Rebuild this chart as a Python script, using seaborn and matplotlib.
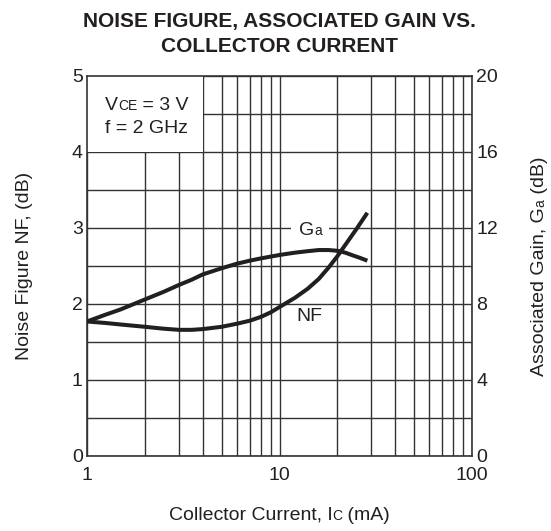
import numpy as np
import pandas as pd
import matplotlib
matplotlib.use('Agg')
import matplotlib.pyplot as plt
import matplotlib.transforms as mtransforms
from matplotlib.patches import Rectangle
from matplotlib.ticker import NullFormatter
import seaborn as sns

# ---------------- data ----------------
ic_nf = [1, 1.25, 1.5, 2, 2.5, 3, 3.5, 4, 5, 6, 7, 8, 9, 10, 12, 14, 16, 18, 20, 22, 25, 28.6]
nf_db = [1.77, 1.75, 1.73, 1.70, 1.675, 1.66, 1.66, 1.67, 1.70, 1.74, 1.78, 1.83, 1.89, 1.96,
         2.08, 2.20, 2.33, 2.48, 2.63, 2.78, 2.98, 3.20]

ic_ga = [1, 1.25, 1.5, 2, 2.5, 3, 3.5, 4, 5, 6, 7, 8, 10, 12, 14, 16, 18, 20, 22, 24, 26, 28.6]
ga_db = [7.08, 7.44, 7.72, 8.24, 8.64, 9.00, 9.28, 9.56, 9.88, 10.12, 10.28, 10.40, 10.58,
         10.70, 10.78, 10.84, 10.84, 10.80, 10.70, 10.56, 10.44, 10.28]

x_major = [1, 10, 100]
x_labels = ['1', '10', '100']
x_minor = [2, 3, 4, 5, 6, 7, 8, 9, 20, 30, 40, 50, 60, 70, 80, 90]
nf_ticks = [0, 1, 2, 3, 4, 5]
nf_minor = [0.5, 1.5, 2.5, 3.5, 4.5]
ga_ticks = [0, 4, 8, 12, 16, 20]

title_lines = ['NOISE FIGURE, ASSOCIATED GAIN VS.', 'COLLECTOR CURRENT']

# ---------------- style ----------------
W, H = 551, 531
sns.set_theme(style='white')
FONT = 'Liberation Sans'
plt.rcParams['font.family'] = [FONT, 'DejaVu Sans']
INK = '#231f20'
GRID = '#333333'
FS = 14
FS_SMALL = 10

fig = plt.figure(figsize=(W / 100, H / 100), dpi=100)
ax = fig.add_axes([87 / W, (H - 456) / H, 385 / W, 380 / H])
ax.set_xscale('log')
ax2 = ax.twinx()

nf_df = pd.DataFrame({'Ic': ic_nf, 'NF': nf_db})
ga_df = pd.DataFrame({'Ic': ic_ga, 'Ga': ga_db})
sns.lineplot(data=nf_df, x='Ic', y='NF', ax=ax, color=INK, lw=2.9, sort=False, zorder=3,
             solid_capstyle='butt', solid_joinstyle='round')
sns.lineplot(data=ga_df, x='Ic', y='Ga', ax=ax2, color=INK, lw=2.9, sort=False, zorder=3,
             solid_capstyle='butt', solid_joinstyle='round')

ax.set_xlim(1, 100)
ax.set_ylim(0, 5)
ax2.set_ylim(0, 20)

ax.set_xticks(x_major)
ax.set_xticklabels(x_labels, fontsize=FS, color=INK)
ax.set_xticks(x_minor, minor=True)
ax.xaxis.set_minor_formatter(NullFormatter())
ax.set_yticks(nf_ticks)
ax.set_yticklabels([str(v) for v in nf_ticks], fontsize=FS, color=INK)
ax.set_yticks(nf_minor, minor=True)
ax2.set_yticks(ga_ticks)
ax2.set_yticklabels([str(v) for v in ga_ticks], fontsize=FS, color=INK)

ax.set_axisbelow(True)
ax.grid(which='both', color=GRID, lw=1.0)
ax2.grid(False)
ax.tick_params(which='both', length=0)
ax.tick_params(axis='y', pad=3)
ax.tick_params(axis='x', pad=8)
ax2.tick_params(which='both', length=0, pad=3)
ax.set_xlabel('')
ax.set_ylabel('')
ax2.set_ylabel('')
for s in ax.spines.values():
    s.set_color(GRID)
    s.set_linewidth(1.2)
for s in ax2.spines.values():
    s.set_visible(False)

# white patch behind the condition text
ax.add_patch(Rectangle((1, 4), 3, 1, facecolor='white', edgecolor='none', zorder=1))

# ---------------- composite text helpers ----------------
renderer = fig.canvas.get_renderer()
IDT = mtransforms.IdentityTransform()


def measure(s, size, weight='normal'):
    t = fig.text(0, 0, '|' + s + '|', fontsize=size, fontweight=weight)
    t0 = fig.text(0, 0, '||', fontsize=size, fontweight=weight)
    w = t.get_window_extent(renderer).width - t0.get_window_extent(renderer).width
    t.remove()
    t0.remove()
    return w


def composite(x, y, pieces, rotation=0, align='center'):
    """x, y in display pixels (origin bottom-left); y (or x if rotated) is baseline."""
    ws = [measure(s, sz) for s, sz in pieces]
    total = sum(ws)
    pos = -total / 2 if align == 'center' else 0
    for (s, sz), w in zip(pieces, ws):
        if rotation == 0:
            px, py = x + pos, y
        else:
            px, py = x, y + pos
        fig.text(px, py, s, fontsize=sz, color=INK, rotation=rotation,
                 rotation_mode='anchor', ha='left', va='baseline',
                 transform=IDT, zorder=6)
        pos += w
    return total


def scr(y_top):
    return H - y_top

# condition text
composite(105, scr(109.5), [('V', FS), ('CE', FS_SMALL), (' = 3 V', FS)], align='left')
composite(105, scr(132.7), [('f = 2 GHz', FS)], align='left')

# curve labels
gx, gy = ax.transData.transform((14.5, 3.0))
fig.add_artist(Rectangle((gx - 20, gy - 3), 38, 6, transform=IDT, facecolor='white',
                         edgecolor='none', zorder=1))
composite(gx, gy - 7, [('G', FS), ('a', FS_SMALL)])
ax.text(14.3, 1.83, 'NF', ha='center', va='center', fontsize=FS, color=INK, zorder=5)

# axis labels
fig.text(25 / W, (H - 266) / H, 'Noise Figure NF, (dB)', rotation=90, ha='center', va='center',
         fontsize=FS, color=INK)
composite(544, scr(266), [('Associated Gain, G', FS), ('a', FS_SMALL), (' (dB)', FS)], rotation=90)
composite(279.5, scr(520), [('Collector Current, I', FS), ('C', FS_SMALL), (' (mA)', FS)])

# title
fig.text(279.5 / W, (H - 22) / H, title_lines[0], ha='center', va='center', fontsize=15,
         fontweight='bold', color=INK)
fig.text(279.5 / W, (H - 47) / H, title_lines[1], ha='center', va='center', fontsize=15,
         fontweight='bold', color=INK)

fig.savefig('out.png', dpi=100, facecolor='white')
